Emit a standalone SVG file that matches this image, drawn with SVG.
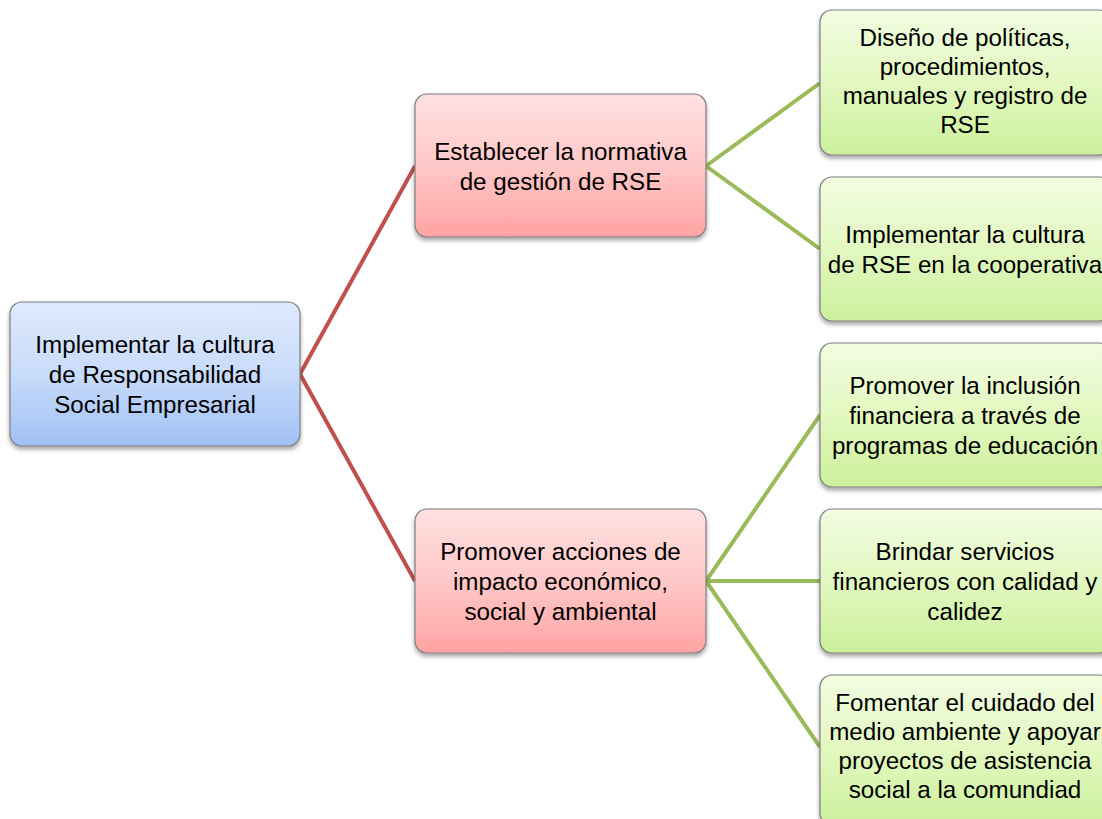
<svg xmlns="http://www.w3.org/2000/svg" width="1102" height="819" viewBox="0 0 1102 819">
<defs>
<linearGradient id="gBlue" x1="0" y1="0" x2="0" y2="1"><stop offset="0" stop-color="#dfeafd"/><stop offset="0.5" stop-color="#c8dbfa"/><stop offset="1" stop-color="#a0c1f5"/></linearGradient>
<linearGradient id="gRed" x1="0" y1="0" x2="0" y2="1"><stop offset="0" stop-color="#ffe0e0"/><stop offset="0.5" stop-color="#ffc8c8"/><stop offset="1" stop-color="#ffa3a3"/></linearGradient>
<linearGradient id="gGreen" x1="0" y1="0" x2="0" y2="1"><stop offset="0" stop-color="#f2fce2"/><stop offset="0.5" stop-color="#e2f8c0"/><stop offset="1" stop-color="#ccf09c"/></linearGradient>
<filter id="sh" x="-10%" y="-10%" width="120%" height="130%"><feDropShadow dx="0" dy="3" stdDeviation="2.2" flood-color="#000" flood-opacity="0.35"/></filter>
<style>
.box{stroke:#7f7f7f;stroke-width:1.2;filter:url(#sh)}
.blue{fill:url(#gBlue)}
.red{fill:url(#gRed)}
.green{fill:url(#gGreen)}
text{font-family:"Liberation Sans",Arial,sans-serif;font-size:24.2px;fill:#000;text-anchor:middle}
.cr{stroke:#c0504d;stroke-width:4;fill:none;stroke-linejoin:round}
.cg{stroke:#9bbb59;stroke-width:4;fill:none;stroke-linejoin:round}
</style>
</defs>
<g id="connectors">
<polyline class="cr" points="415,166 300,374 415,581"/>
<polyline class="cg" points="820,83 706,166 820,249"/>
<polyline class="cg" points="820,415 706,581 820,747"/>
<line class="cg" x1="706" y1="581" x2="820" y2="581"/>
</g>
<g id="root">
<rect class="box blue" x="10" y="302" width="290" height="144" rx="12"/>
<text x="155" y="353">Implementar la cultura</text>
<text x="155" y="383">de Responsabilidad</text>
<text x="155" y="413">Social Empresarial</text>
</g>
<g id="mid1">
<rect class="box red" x="415" y="94" width="291" height="143" rx="12"/>
<text x="560.5" y="160">Establecer la normativa</text>
<text x="560.5" y="190">de gestión de RSE</text>
</g>
<g id="mid2">
<rect class="box red" x="415" y="509" width="291" height="144" rx="12"/>
<text x="560.5" y="560">Promover acciones de</text>
<text x="560.5" y="590">impacto económico,</text>
<text x="560.5" y="620">social y ambiental</text>
</g>
<g id="leaf1">
<rect class="box green" x="820" y="10" width="291" height="145" rx="12"/>
<text x="965" y="46">Diseño de políticas,</text>
<text x="965" y="75">procedimientos,</text>
<text x="965" y="104">manuales y registro de</text>
<text x="965" y="133">RSE</text>
</g>
<g id="leaf2">
<rect class="box green" x="820" y="177" width="291" height="144" rx="12"/>
<text x="965" y="243">Implementar la cultura</text>
<text x="965" y="273">de RSE en la cooperativa</text>
</g>
<g id="leaf3">
<rect class="box green" x="820" y="343" width="291" height="144" rx="12"/>
<text x="965" y="394">Promover la inclusión</text>
<text x="965" y="424">financiera a través de</text>
<text x="965" y="454">programas de educación</text>
</g>
<g id="leaf4">
<rect class="box green" x="820" y="509" width="291" height="144" rx="12"/>
<text x="965" y="560">Brindar servicios</text>
<text x="965" y="590">financieros con calidad y</text>
<text x="965" y="620">calidez</text>
</g>
<g id="leaf5">
<rect class="box green" x="820" y="675" width="291" height="150" rx="12"/>
<text x="965" y="711">Fomentar el cuidado del</text>
<text x="965" y="740">medio ambiente y apoyar</text>
<text x="965" y="769">proyectos de asistencia</text>
<text x="965" y="798">social a la comundiad</text>
</g>
</svg>
